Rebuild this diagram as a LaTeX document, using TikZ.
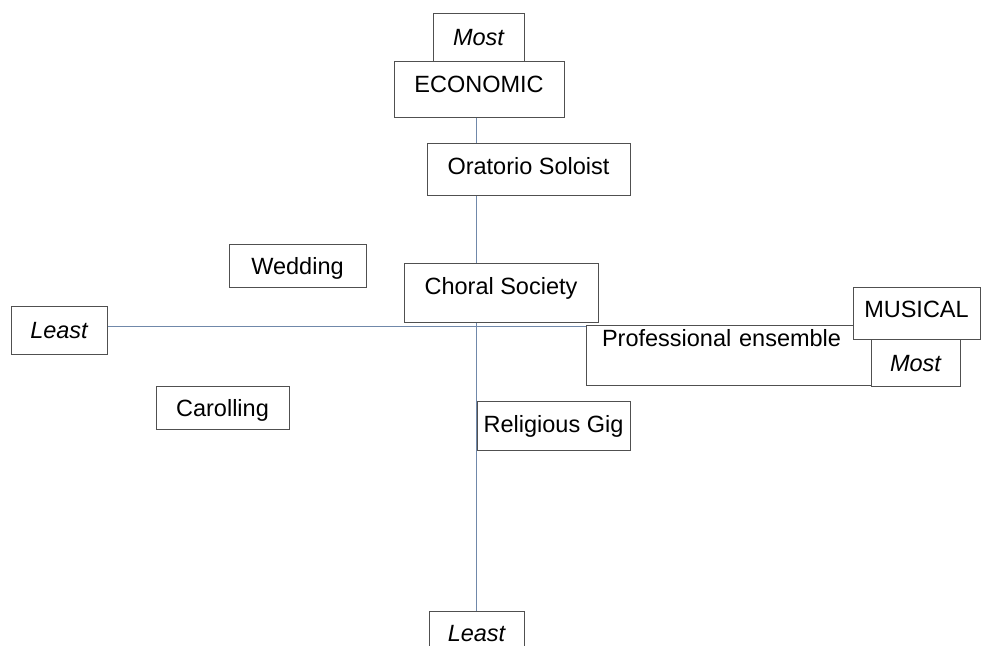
\documentclass[tikz,border=0pt]{standalone}
\usepackage{fontspec}
\setmainfont{Liberation Sans}
\usepackage{tikz}
\usetikzlibrary{backgrounds}
\definecolor{axisblue}{RGB}{112,136,170}
\definecolor{boxgray}{RGB}{80,80,80}
\tikzset{
	box/.style={draw=boxgray, line width=0.8pt, fill=white, inner sep=0pt,
		font=\fontsize{23.5}{28}\selectfont, text height=17pt, text depth=0pt},
	axisline/.style={draw=axisblue, line width=0.8pt}
}

\begin{document}
\begin{tikzpicture}[x=1pt, y=-1pt]
		%%%%% START %%%%%
		\useasboundingbox (0, 0) rectangle (982, 645);
		
		\node[box, minimum width=91, minimum height=48] (mostE) at (478.5, 37) {\itshape Most};
		\node[box, minimum width=170, minimum height=56, text depth=11pt] (econ) at (479, 89) {ECONOMIC};
		\node[box, minimum width=203, minimum height=52, text depth=6pt] (orat) at (528.5, 169) {Oratorio Soloist};
		\node[box, minimum width=137, minimum height=43] (wedding) at (297.5, 265.5) {Wedding};
		\node[box, minimum width=194, minimum height=59, text depth=13pt] (choral) at (501, 292.5) {Choral Society};
		\node[box, minimum width=96, minimum height=48] (leastL) at (59, 330) {\itshape Least};
		\node[box, minimum width=133, minimum height=43] (carol) at (222.5, 408) {Carolling};
		\node[box, minimum width=153, minimum height=49, text depth=4pt] (relig) at (553.5, 425.5) {Religious Gig};
		
		\node[box, minimum width=314, minimum height=60, text depth=34pt,
			text width=282, align=left] (profens) at (743, 355) {Professional ensemble};
		\node[box, minimum width=127, minimum height=52, text depth=8pt] (musical) at (916.5, 313) {MUSICAL};
		\node[box, minimum width=89, minimum height=47] (mostM) at (915.5, 363) {\itshape Most};
		
		\node[box, minimum width=95, minimum height=48, text depth=4pt] (leastB) at (476.5, 635) {\itshape Least};
		
		% axes go behind the boxes
		\begin{pgfonlayer}{background}
			\fill[white] (0, 0) rectangle (982, 645);
			\coordinate (hx) at (0, 326);
			\draw[axisline] (econ.south -| leastB) -- (leastB.north);
			\draw[axisline] (leastL.east |- hx) -- (musical.west |- hx);
		\end{pgfonlayer}
		%%%%% END %%%%%
\end{tikzpicture}
\end{document}
